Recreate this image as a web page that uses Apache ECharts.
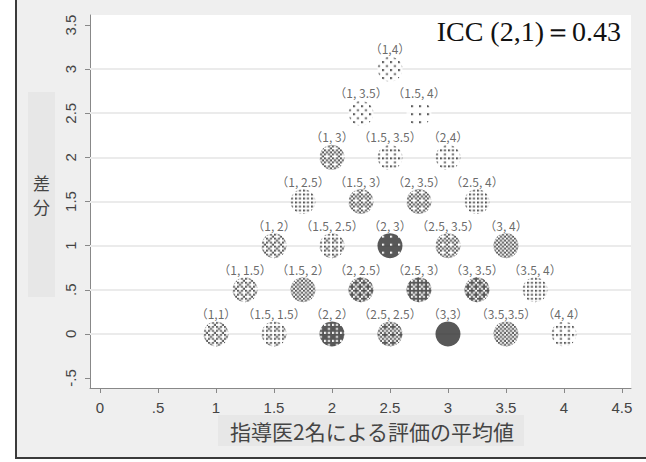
<!DOCTYPE html>
<html><head><meta charset="utf-8">
<script src="https://cdn.jsdelivr.net/npm/echarts@6/dist/echarts.min.js"></script>
<style>
html,body{margin:0;padding:0;background:#fff;}
#frame{position:absolute;left:15px;top:0;width:629px;height:457px;background:#efefef;border-left:2px solid #3a3a3a;border-bottom:2px solid #3a3a3a;}
#c{position:absolute;left:0;top:0;width:646px;height:462px;}
</style></head>
<body><div id="frame"></div><div id="c"></div>
<script>
// Tick values
const xTickValues = [0, 0.5, 1, 1.5, 2, 2.5, 3, 3.5, 4, 4.5];
const yTickValues = [-0.5, 0, 0.5, 1, 1.5, 2, 2.5, 3, 3.5];
const yGridValues = [0, 0.5, 1, 1.5, 2, 2.5, 3];

// Cells: mean of the two raters (x), difference (y), pair label, estimated number of points
const cellMean = [1, 1.5, 2, 2.5, 3, 3.5, 4,
                  1.25, 1.75, 2.25, 2.75, 3.25, 3.75,
                  1.5, 2, 2.5, 3, 3.5,
                  1.75, 2.25, 2.75, 3.25,
                  2, 2.5, 3,
                  2.25, 2.75,
                  2.5];
const cellDiff = [0, 0, 0, 0, 0, 0, 0,
                  0.5, 0.5, 0.5, 0.5, 0.5, 0.5,
                  1, 1, 1, 1, 1,
                  1.5, 1.5, 1.5, 1.5,
                  2, 2, 2,
                  2.5, 2.5,
                  3];
const cellLabel = ['（1,1）', '（1.5, 1.5）', '（2, 2）', '（2.5, 2.5）', '（3,3）', '（3.5,3.5）', '（4, 4）',
                   '（1, 1.5）', '（1.5, 2）', '（2, 2.5）', '（2.5, 3）', '（3, 3.5）', '（3.5, 4）',
                   '（1, 2）', '（1.5, 2.5）', '（2, 3）', '（2.5, 3.5）', '（3, 4）',
                   '（1, 2.5）', '（1.5, 3）', '（2, 3.5）', '（2.5, 4）',
                   '（1, 3）', '（1.5, 3.5）', '（2,4）',
                   '（1, 3.5）', '（1.5, 4）',
                   '（1,4）'];
const cellCount = [65, 60, 150, 100, 190, 90, 35,
                   65, 85, 110, 120, 110, 40,
                   65, 60, 165, 75, 85,
                   40, 75, 75, 40,
                   80, 30, 35,
                   18, 15,
                   18];

const iccText = 'ICC (2,1)＝0.43';
const xTitle = '指導医2名による評価の平均値';
const yTitleTop = '差';
const yTitleBottom = '分';

const fmt = v => String(v).replace(/^0\./, '.').replace(/^-0\./, '-.');

const markSize = 25;
// ordered-dither speckle texture whose darkness follows the point count
const bayer = [[0, 8, 2, 10], [12, 4, 14, 6], [3, 11, 1, 9], [15, 7, 13, 5]];
function speckle(frac) {
  const c = document.createElement('canvas');
  c.width = 8; c.height = 8;
  const g = c.getContext('2d');
  g.fillStyle = '#ffffff'; g.fillRect(0, 0, 8, 8);
  g.fillStyle = '#2e2e2e';
  for (let j = 0; j < 4; j++) for (let i = 0; i < 4; i++)
    if (bayer[j][i] + 0.5 < frac * 16) g.fillRect(i * 2, j * 2, 2, 2);
  return c.toDataURL();
}
const maxCount = 180;
const patScale = 2 / markSize; // symbol paths are drawn in unit space, scaled by size/2

const data = cellMean.map((m, i) => ({
  value: [m, cellDiff[i], cellCount[i]],
  name: cellLabel[i],
  itemStyle: { color: { image: speckle(Math.min(1, cellCount[i] / maxCount)), repeat: 'repeat', imageWidth: 8, imageHeight: 8, scaleX: patScale, scaleY: patScale } }
}));

const chart = echarts.init(document.getElementById('c'), null, { renderer: 'svg' });
chart.setOption({
  backgroundColor: 'transparent',
  animation: false,
  title: {
    text: iccText, right: 20, top: 12,
    textStyle: { fontFamily: 'Liberation Serif', fontSize: 28, fontWeight: 'normal', color: '#111' }
  },
  grid: { left: 90, top: 15, width: 541, height: 373, show: true, backgroundColor: '#fff', borderWidth: 0 },
  xAxis: {
    type: 'value', min: -0.0862, max: 4.578,
    axisLine: { show: true, onZero: false, lineStyle: { color: '#888', width: 1 } },
    axisTick: { show: true, length: 5, lineStyle: { color: '#888' }, customValues: xTickValues },
    axisLabel: { customValues: xTickValues, formatter: fmt, color: '#444', fontSize: 15, fontFamily: 'Liberation Sans', margin: 12 },
    splitLine: { show: false }
  },
  yAxis: {
    type: 'value', min: -0.613, max: 3.613,
    axisLine: { show: true, onZero: false, lineStyle: { color: '#888', width: 1 } },
    axisTick: { show: true, length: 5, lineStyle: { color: '#888' }, customValues: yTickValues },
    axisLabel: { customValues: yTickValues, formatter: fmt, rotate: 90, color: '#444', fontSize: 15, fontFamily: 'Liberation Sans', margin: 12 },
    splitLine: { show: false }
  },
  series: [{
    type: 'scatter',
    data: data,
    symbol: 'circle',
    symbolSize: markSize,
    z: 3,
    label: {
      show: true, position: 'top', distance: 2,
      formatter: p => p.name,
      color: '#444', fontSize: 12, fontFamily: 'Noto Sans CJK JP'
    },
    markLine: {
      silent: true, symbol: 'none', animation: false, z: 1,
      label: { show: false },
      lineStyle: { color: '#ebebeb', width: 2, type: 'solid' },
      emphasis: { disabled: true },
      data: yGridValues.map(v => ({ yAxis: v }))
    }
  }],
  graphic: [
    { type: 'rect', shape: { x: 28, y: 92, width: 27, height: 205 }, style: { fill: '#e7e7e7' }, silent: true },
    { type: 'text', x: 41.5, y: 182, style: { text: yTitleTop, fontSize: 17, fontFamily: 'Noto Sans CJK JP', fill: '#444', align: 'center', verticalAlign: 'middle' } },
    { type: 'text', x: 41.5, y: 206, style: { text: yTitleBottom, fontSize: 17, fontFamily: 'Noto Sans CJK JP', fill: '#444', align: 'center', verticalAlign: 'middle' } },
    { type: 'rect', shape: { x: 218, y: 415, width: 306, height: 31 }, style: { fill: '#e7e7e7' }, silent: true },
    { type: 'text', x: 372, y: 431, style: { text: xTitle, fontSize: 21, fontFamily: 'Noto Sans CJK JP', fill: '#444', align: 'center', verticalAlign: 'middle' } }
  ]
});
</script></body></html>
